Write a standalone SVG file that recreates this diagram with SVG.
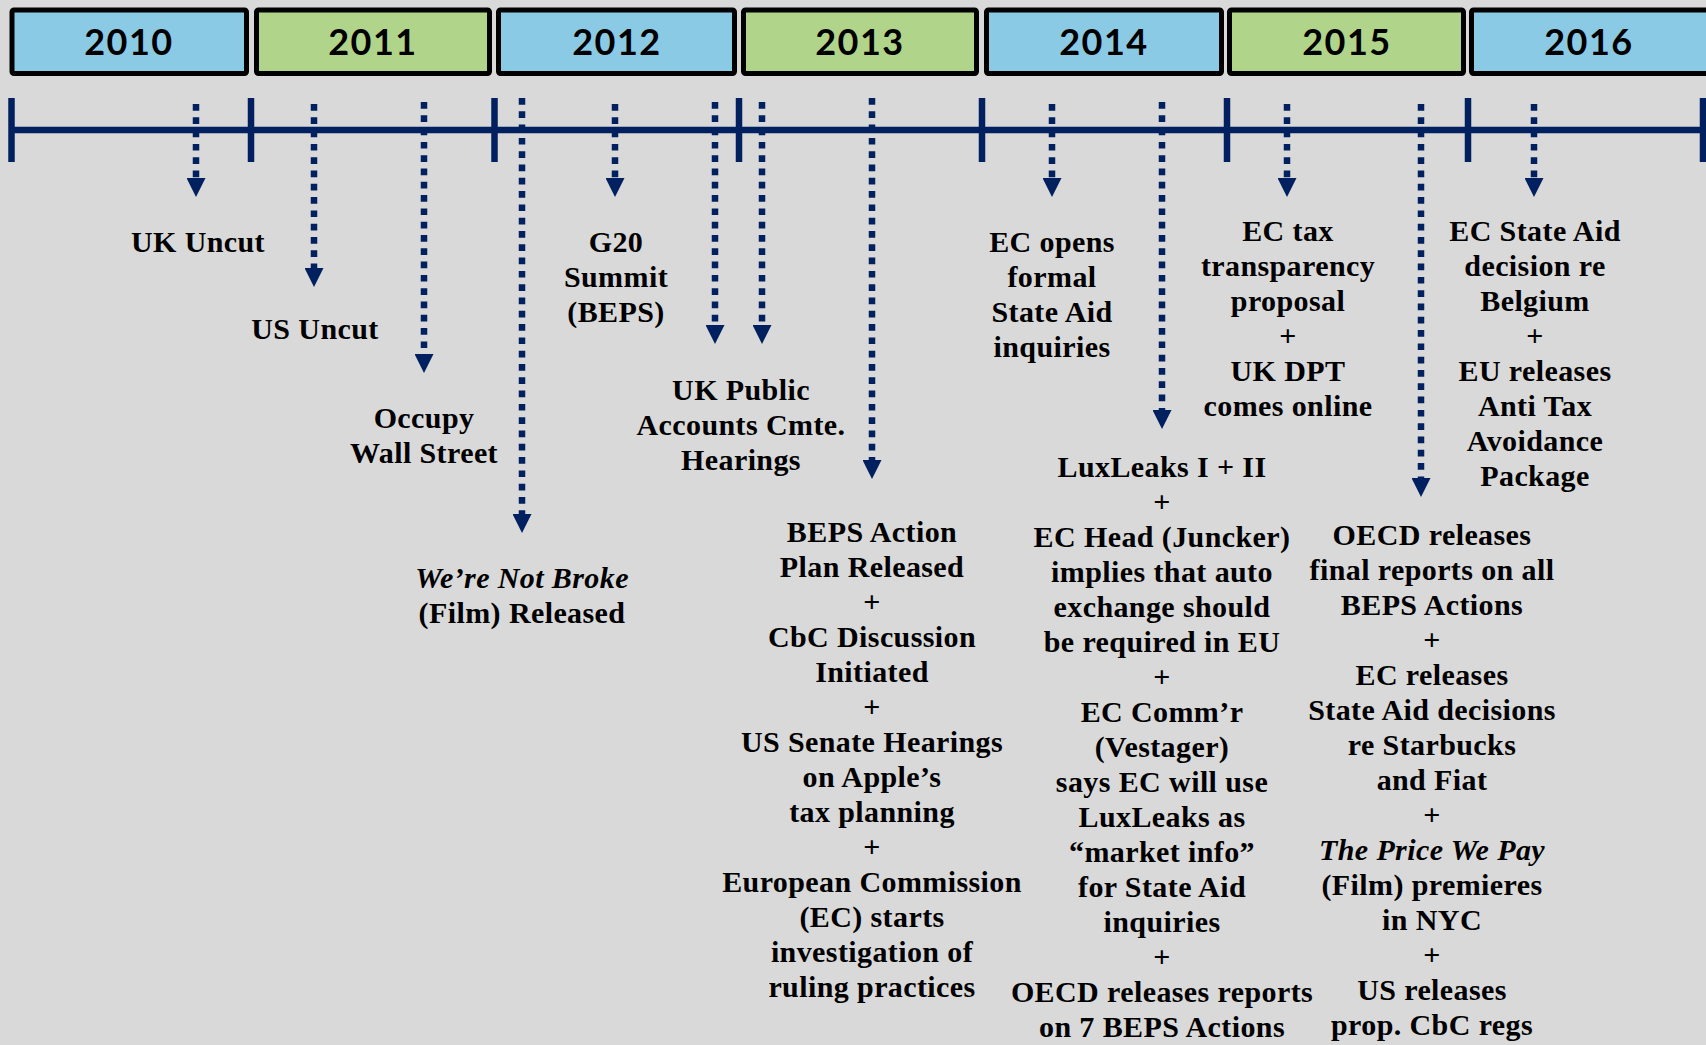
<svg xmlns="http://www.w3.org/2000/svg" width="1706" height="1045" viewBox="0 0 1706 1045">
<style>
.yr{stroke:#000;stroke-width:5}
.blue{fill:#8BCAE4}
.green{fill:#B1D48B}
.yt{font-family:Lato,"Open Sans","Liberation Sans",sans-serif;font-weight:700;font-size:36px;letter-spacing:1.5px;text-anchor:middle;fill:#000}
.t{font-family:"Liberation Serif","Times New Roman",serif;font-weight:700;font-size:30px;letter-spacing:0.4px;text-anchor:middle;fill:#000}
.i{font-style:italic}
.ax{stroke:#002060;stroke-width:6.5;fill:none}
.dl{stroke:#002060;stroke-width:6.5;stroke-dasharray:6.7 6.6;fill:none;marker-end:url(#ah)}
</style>
<defs>
<marker id="ah" markerUnits="userSpaceOnUse" markerWidth="19" markerHeight="19" refX="0" refY="9.5" orient="auto">
<path d="M0,0 L19,9.5 L0,19 Z" fill="#002060"/>
</marker>
</defs>
<rect x="0" y="0" width="1706" height="1045" fill="#D9D9D9"/>

<g id="year-2010"><rect class="yr blue" x="12" y="10" width="234.5" height="63.5" rx="2"/><text class="yt" x="129" y="55">2010</text></g>
<g id="year-2011"><rect class="yr green" x="256.5" y="10" width="233" height="63.5" rx="2"/><text class="yt" x="373" y="55">2011</text></g>
<g id="year-2012"><rect class="yr blue" x="498.5" y="10" width="236" height="63.5" rx="2"/><text class="yt" x="617" y="55">2012</text></g>
<g id="year-2013"><rect class="yr green" x="743.5" y="10" width="233" height="63.5" rx="2"/><text class="yt" x="860" y="55">2013</text></g>
<g id="year-2014"><rect class="yr blue" x="986.5" y="10" width="235" height="63.5" rx="2"/><text class="yt" x="1104" y="55">2014</text></g>
<g id="year-2015"><rect class="yr green" x="1229.5" y="10" width="234" height="63.5" rx="2"/><text class="yt" x="1347" y="55">2015</text></g>
<g id="year-2016"><rect class="yr blue" x="1471.5" y="10" width="240" height="63.5" rx="2"/><text class="yt" x="1589" y="55">2016</text></g>

<g id="axis">
<line class="ax" x1="11.5" y1="130" x2="1703" y2="130"/>
<line class="ax" x1="11.5" y1="98" x2="11.5" y2="162"/>
<line class="ax" x1="251" y1="98" x2="251" y2="162"/>
<line class="ax" x1="494.5" y1="98" x2="494.5" y2="162"/>
<line class="ax" x1="739" y1="98" x2="739" y2="162"/>
<line class="ax" x1="982" y1="98" x2="982" y2="162"/>
<line class="ax" x1="1227" y1="98" x2="1227" y2="162"/>
<line class="ax" x1="1468" y1="98" x2="1468" y2="162"/>
<line class="ax" x1="1703" y1="98" x2="1703" y2="162"/>
</g>

<g id="connectors">
<line class="dl" x1="196" y1="104" x2="196" y2="178"/>
<line class="dl" x1="314" y1="104" x2="314" y2="268"/>
<line class="dl" x1="424" y1="102" x2="424" y2="354"/>
<line class="dl" x1="522" y1="98" x2="522" y2="514"/>
<line class="dl" x1="615" y1="104" x2="615" y2="178"/>
<line class="dl" x1="715" y1="102" x2="715" y2="325"/>
<line class="dl" x1="762" y1="102" x2="762" y2="325"/>
<line class="dl" x1="872" y1="98" x2="872" y2="460"/>
<line class="dl" x1="1052" y1="104" x2="1052" y2="178"/>
<line class="dl" x1="1162" y1="102" x2="1162" y2="410"/>
<line class="dl" x1="1287" y1="104" x2="1287" y2="178"/>
<line class="dl" x1="1421" y1="104" x2="1421" y2="478"/>
<line class="dl" x1="1534" y1="104" x2="1534" y2="178"/>
</g>

<g id="ev-uk-uncut"><text class="t" x="198" y="252">UK Uncut</text></g>
<g id="ev-us-uncut"><text class="t" x="315" y="339">US Uncut</text></g>
<g id="ev-occupy"><text class="t" x="424"><tspan x="424" y="428">Occupy</tspan><tspan x="424" y="463">Wall Street</tspan></text></g>
<g id="ev-not-broke"><text class="t" x="522"><tspan x="522" y="588" class="i">We’re Not Broke</tspan><tspan x="522" y="623">(Film) Released</tspan></text></g>
<g id="ev-g20"><text class="t" x="616"><tspan x="616" y="252">G20</tspan><tspan x="616" y="287">Summit</tspan><tspan x="616" y="322">(BEPS)</tspan></text></g>
<g id="ev-uk-pac"><text class="t" x="741"><tspan x="741" y="400">UK Public</tspan><tspan x="741" y="435">Accounts Cmte.</tspan><tspan x="741" y="470">Hearings</tspan></text></g>
<g id="ev-2013"><text class="t" x="872"><tspan x="872" y="542">BEPS Action</tspan><tspan x="872" y="577">Plan Released</tspan><tspan x="872" y="612">+</tspan><tspan x="872" y="647">CbC Discussion</tspan><tspan x="872" y="682">Initiated</tspan><tspan x="872" y="717">+</tspan><tspan x="872" y="752">US Senate Hearings</tspan><tspan x="872" y="787">on Apple’s</tspan><tspan x="872" y="822">tax planning</tspan><tspan x="872" y="857">+</tspan><tspan x="872" y="892">European Commission</tspan><tspan x="872" y="927">(EC) starts</tspan><tspan x="872" y="962">investigation of</tspan><tspan x="872" y="997">ruling practices</tspan></text></g>
<g id="ev-ec-opens"><text class="t" x="1052"><tspan x="1052" y="252">EC opens</tspan><tspan x="1052" y="287">formal</tspan><tspan x="1052" y="322">State Aid</tspan><tspan x="1052" y="357">inquiries</tspan></text></g>
<g id="ev-luxleaks"><text class="t" x="1162"><tspan x="1162" y="477">LuxLeaks I + II</tspan><tspan x="1162" y="512">+</tspan><tspan x="1162" y="547">EC Head (Juncker)</tspan><tspan x="1162" y="582">implies that auto</tspan><tspan x="1162" y="617">exchange should</tspan><tspan x="1162" y="652">be required in EU</tspan><tspan x="1162" y="687">+</tspan><tspan x="1162" y="722">EC Comm’r</tspan><tspan x="1162" y="757">(Vestager)</tspan><tspan x="1162" y="792">says EC will use</tspan><tspan x="1162" y="827">LuxLeaks as</tspan><tspan x="1162" y="862">“market info”</tspan><tspan x="1162" y="897">for State Aid</tspan><tspan x="1162" y="932">inquiries</tspan><tspan x="1162" y="967">+</tspan><tspan x="1162" y="1002">OECD releases reports</tspan><tspan x="1162" y="1037">on 7 BEPS Actions</tspan></text></g>
<g id="ev-ec-tax"><text class="t" x="1288"><tspan x="1288" y="241">EC tax</tspan><tspan x="1288" y="276">transparency</tspan><tspan x="1288" y="311">proposal</tspan><tspan x="1288" y="346">+</tspan><tspan x="1288" y="381">UK DPT</tspan><tspan x="1288" y="416">comes online</tspan></text></g>
<g id="ev-oecd-final"><text class="t" x="1432"><tspan x="1432" y="545">OECD releases</tspan><tspan x="1432" y="580">final reports on all</tspan><tspan x="1432" y="615">BEPS Actions</tspan><tspan x="1432" y="650">+</tspan><tspan x="1432" y="685">EC releases</tspan><tspan x="1432" y="720">State Aid decisions</tspan><tspan x="1432" y="755">re Starbucks</tspan><tspan x="1432" y="790">and Fiat</tspan><tspan x="1432" y="825">+</tspan><tspan x="1432" y="860" class="i">The Price We Pay</tspan><tspan x="1432" y="895">(Film) premieres</tspan><tspan x="1432" y="930">in NYC</tspan><tspan x="1432" y="965">+</tspan><tspan x="1432" y="1000">US releases</tspan><tspan x="1432" y="1035">prop. CbC regs</tspan></text></g>
<g id="ev-ec-belgium"><text class="t" x="1535"><tspan x="1535" y="241">EC State Aid</tspan><tspan x="1535" y="276">decision re</tspan><tspan x="1535" y="311">Belgium</tspan><tspan x="1535" y="346">+</tspan><tspan x="1535" y="381">EU releases</tspan><tspan x="1535" y="416">Anti Tax</tspan><tspan x="1535" y="451">Avoidance</tspan><tspan x="1535" y="486">Package</tspan></text></g>
</svg>
